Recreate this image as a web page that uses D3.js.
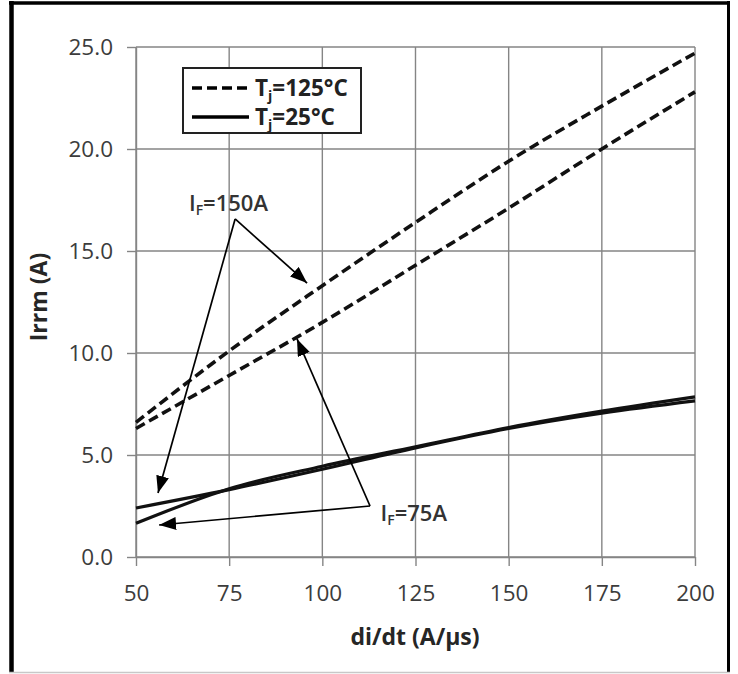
<!DOCTYPE html>
<html>
<head>
<meta charset="utf-8">
<script src="https://cdn.jsdelivr.net/npm/d3@7"></script>
<style>
  body { margin: 0; background: #fff; }
  text { font-family: "Open Sans", "DejaVu Sans", sans-serif; }
  .tick text { fill: #3c3c3c; font-size: 22.5px; }
  .grid line { stroke: #858585; stroke-width: 1.4; }
</style>
</head>
<body>
<div id="chart"></div>
<script>
// chart data
const diDt = [50, 75, 100, 125, 150, 175, 200];
const irrm150Hot = [6.6, 10.1, 13.3, 16.4, 19.4, 22.1, 24.7];
const irrm75Hot = [6.3, 8.9, 11.5, 14.3, 17.1, 20.0, 22.8];
const irrm150Cold = [2.4, 3.3, 4.3, 5.35, 6.3, 7.05, 7.65];
const irrm75Cold = [1.65, 3.35, 4.45, 5.4, 6.35, 7.15, 7.85];

const xTicks = [50, 75, 100, 125, 150, 175, 200];
const yTicks = [0, 5, 10, 15, 20, 25];

// annotation anchors in data units: label, arrow start, arrow tips
const note150 = { label: [64.2, 17.35], from: [76.6, 16.57], tips: [[95.9, 13.43], [55.9, 3.14]] };
const note75 = { label: [115.6, 2.16], from: [112.8, 2.5], tips: [[56.2, 1.57], [93.2, 10.69]] };

//SVG size and padding
const svgWidth = 738;
const svgHeight = 674;
const margin = { top: 47, right: 43, bottom: 117, left: 136 };
var width = svgWidth - margin.left - margin.right;
var height = svgHeight - margin.top - margin.bottom;

var svg = d3.select("#chart")
  .append("svg")
  .attr("width", svgWidth)
  .attr("height", svgHeight);

// picture frame
svg.append("line").attr("x1", 9).attr("x2", 730).attr("y1", 3).attr("y2", 3)
  .attr("stroke", "#000").attr("stroke-width", 3.5);
svg.append("line").attr("x1", 11.5).attr("x2", 11.5).attr("y1", 1).attr("y2", 673)
  .attr("stroke", "#000").attr("stroke-width", 4.5);
svg.append("line").attr("x1", 728.5).attr("x2", 728.5).attr("y1", 1).attr("y2", 673)
  .attr("stroke", "#000").attr("stroke-width", 3);
svg.append("line").attr("x1", 9).attr("x2", 730).attr("y1", 672.5).attr("y2", 672.5)
  .attr("stroke", "#c8c8c8").attr("stroke-width", 1.5);

var chartData = svg.append("g")
  .attr("transform", `translate(${margin.left}, ${margin.top})`);

var xScale = d3.scaleLinear().domain([50, 200]).range([0, width]);
var yScale = d3.scaleLinear().domain([0, 25]).range([height, 0]);

// gridlines
chartData.append("g")
  .attr("class", "grid")
  .selectAll("line.v")
  .data(xTicks)
  .enter()
  .append("line")
  .attr("x1", d => xScale(d)).attr("x2", d => xScale(d))
  .attr("y1", 0).attr("y2", height);

chartData.append("g")
  .attr("class", "grid")
  .selectAll("line.h")
  .data(yTicks)
  .enter()
  .append("line")
  .attr("x1", 0).attr("x2", width)
  .attr("y1", d => yScale(d)).attr("y2", d => yScale(d));

// axes
var bottomAxis = d3.axisBottom(xScale)
  .tickValues(xTicks)
  .tickSize(9)
  .tickSizeOuter(0)
  .tickPadding(19);
var leftAxis = d3.axisLeft(yScale)
  .tickValues(yTicks)
  .tickFormat(d3.format(".1f"))
  .tickSize(9)
  .tickSizeOuter(0)
  .tickPadding(14);

var xAxis = chartData.append("g")
  .attr("transform", `translate(0, ${height})`)
  .call(bottomAxis);
var yAxis = chartData.append("g")
  .call(leftAxis);

[xAxis, yAxis].forEach(function(axis) {
  axis.select(".domain").attr("stroke", "#858585").attr("stroke-width", 1.4);
  axis.selectAll(".tick line").attr("stroke", "#858585").attr("stroke-width", 1.4);
  axis.selectAll(".tick text").attr("font-size", null);
});

// axis titles
svg.append("text")
  .attr("x", 415)
  .attr("y", 637)
  .attr("dy", "0.35em")
  .attr("text-anchor", "middle")
  .attr("font-size", 23)
  .attr("font-weight", "bold")
  .attr("fill", "#262626")
  .text("di/dt (A/µs)");

svg.append("text")
  .attr("transform", "translate(39, 297) rotate(-90)")
  .attr("dy", "0.35em")
  .attr("text-anchor", "middle")
  .attr("font-size", 23)
  .attr("font-weight", "bold")
  .attr("fill", "#262626")
  .text("Irrm (A)");

// curves
var lineGen = d3.line()
  .x(d => xScale(d[0]))
  .y(d => yScale(d[1]))
  .curve(d3.curveMonotoneX);

var seriesList = [
  { values: irrm150Hot, dash: "10,5" },
  { values: irrm75Hot, dash: "10,5" },
  { values: irrm150Cold, dash: null },
  { values: irrm75Cold, dash: null }
];

chartData.selectAll("path.curve")
  .data(seriesList)
  .enter()
  .append("path")
  .attr("class", "curve")
  .attr("d", s => lineGen(diDt.map((x, i) => [x, s.values[i]])))
  .attr("fill", "none")
  .attr("stroke", "#111")
  .attr("stroke-width", d => d.dash ? 3.6 : 3.2)
  .attr("stroke-dasharray", d => d.dash);

// arrow head marker
svg.append("defs")
  .append("marker")
  .attr("id", "head")
  .attr("markerUnits", "userSpaceOnUse")
  .attr("viewBox", "0 0 17 13")
  .attr("markerWidth", 17)
  .attr("markerHeight", 13)
  .attr("refX", 17)
  .attr("refY", 6.5)
  .attr("orient", "auto")
  .append("path")
  .attr("d", "M0,0L17,6.5L0,13Z")
  .attr("fill", "#000");

// annotations with arrows
function drawNote(note, sub, rest) {
  note.tips.forEach(function(t) {
    chartData.append("line")
      .attr("x1", xScale(note.from[0]))
      .attr("y1", yScale(note.from[1]))
      .attr("x2", xScale(t[0]))
      .attr("y2", yScale(t[1]))
      .attr("stroke", "#000")
      .attr("stroke-width", 1.7)
      .attr("marker-end", "url(#head)");
  });
  var label = chartData.append("text")
    .attr("x", xScale(note.label[0]))
    .attr("y", yScale(note.label[1]))
    .attr("dy", "0.35em")
    .attr("font-size", 22)
    .attr("font-weight", 600)
    .attr("fill", "#333");
  label.append("tspan").text("I");
  label.append("tspan").attr("font-size", 14).attr("dy", 4).text(sub);
  label.append("tspan").attr("dy", -4).text(rest);
}
drawNote(note150, "F", "=150A");
drawNote(note75, "F", "=75A");

// legend
var legend = svg.append("g");
legend.append("rect")
  .attr("x", 183).attr("y", 68)
  .attr("width", 178).attr("height", 65)
  .attr("fill", "#fff")
  .attr("stroke", "#222")
  .attr("stroke-width", 2);

var legendItems = [
  { temp: "=125°C", dash: "10,5" },
  { temp: "=25°C", dash: null }
];
legendItems.forEach(function(item, i) {
  var yy = 88 + i * 29;
  legend.append("line")
    .attr("x1", 192).attr("x2", 249)
    .attr("y1", yy).attr("y2", yy)
    .attr("stroke", "#000")
    .attr("stroke-width", 3.6)
    .attr("stroke-dasharray", item.dash);
  var t = legend.append("text")
    .attr("x", 255)
    .attr("y", yy)
    .attr("dy", "0.35em")
    .attr("font-size", 22.5)
    .attr("font-weight", "bold")
    .attr("fill", "#222");
  t.append("tspan").text("T");
  t.append("tspan").attr("font-size", 14).attr("dy", 5).text("j");
  t.append("tspan").attr("dy", -5).text(item.temp);
});
</script>
</body>
</html>
